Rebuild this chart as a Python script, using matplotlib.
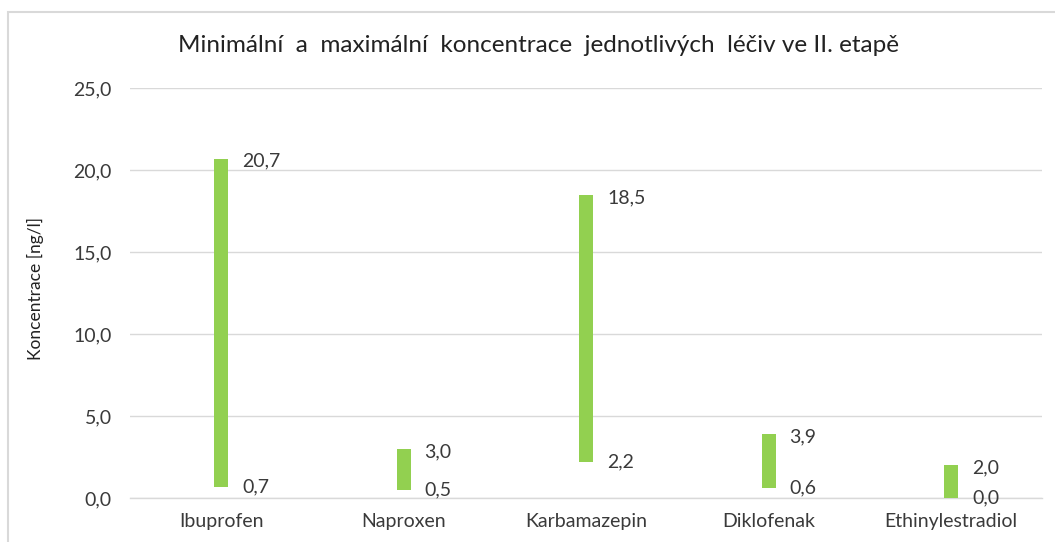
import matplotlib
matplotlib.use('Agg')
import matplotlib.pyplot as plt
from matplotlib.patches import Rectangle
import numpy as np

plt.rcParams['font.family'] = ['Lato', 'DejaVu Sans']

# data
leciva = ['Ibuprofen', 'Naproxen', 'Karbamazepin', 'Diklofenak', 'Ethinylestradiol']
min_konc = [0.7, 0.5, 2.2, 0.6, 0.0]
max_konc = [20.7, 3.0, 18.5, 3.9, 2.0]
y_ticks = [0, 5, 10, 15, 20, 25]

ZELENA = '#92D050'
SEDA = '#d9d9d9'
TEXT = '#3a3a3a'


def cz(v):
    return f'{v:.1f}'.replace('.', ',')


fig = plt.figure(figsize=(10.55, 5.42), dpi=100)
ax = fig.add_axes([0.1232, 0.0812, 0.8648, 0.7564])

x = np.arange(len(leciva))
vysky = [mx - mn for mn, mx in zip(min_konc, max_konc)]
ax.bar(x, vysky, bottom=min_konc, width=0.077, color=ZELENA, zorder=3)

for xi, mn, mx in zip(x, min_konc, max_konc):
    ax.annotate(cz(mx), (xi, mx), xytext=(15, -2), textcoords='offset points',
                ha='left', va='center', fontsize=14, color=TEXT)
    ax.annotate(cz(mn), (xi, mn), xytext=(15, 0), textcoords='offset points',
                ha='left', va='center', fontsize=14, color=TEXT)

ax.set_xlim(-0.5, len(leciva) - 0.5)
ax.set_ylim(0, 25)
ax.set_yticks(y_ticks)
ax.set_yticklabels([cz(v) for v in y_ticks], fontsize=14, color=TEXT)
ax.set_xticks(x)
ax.set_xticklabels(leciva, fontsize=14, color=TEXT)
ax.tick_params(axis='both', length=0)
ax.tick_params(axis='y', pad=13)
ax.tick_params(axis='x', pad=11)
ax.grid(axis='y', color=SEDA, linewidth=1.0, zorder=0)
ax.set_axisbelow(True)
for s in ['top', 'right', 'left']:
    ax.spines[s].set_visible(False)
ax.spines['bottom'].set_color(SEDA)
ax.spines['bottom'].set_linewidth(1.0)

fig.text(539 / 1055, 1 - 45 / 542,
         'Minimální  a  maximální  koncentrace  jednotlivých  léčiv ve II. etapě',
         ha='center', va='center', fontsize=17.5, color='#222222')
fig.text(35 / 1055, 1 - 288 / 542, 'Koncentrace [ng/l]', rotation=90,
         ha='center', va='center', fontsize=12.5, color='#222222')

# okraj grafu
fig.patches.append(Rectangle((8 / 1055, -0.05), 1.2, 1 - 12 / 542 + 0.05,
                             transform=fig.transFigure, fill=False,
                             edgecolor=SEDA, linewidth=1.5))

plt.savefig('out.png', dpi=100)
